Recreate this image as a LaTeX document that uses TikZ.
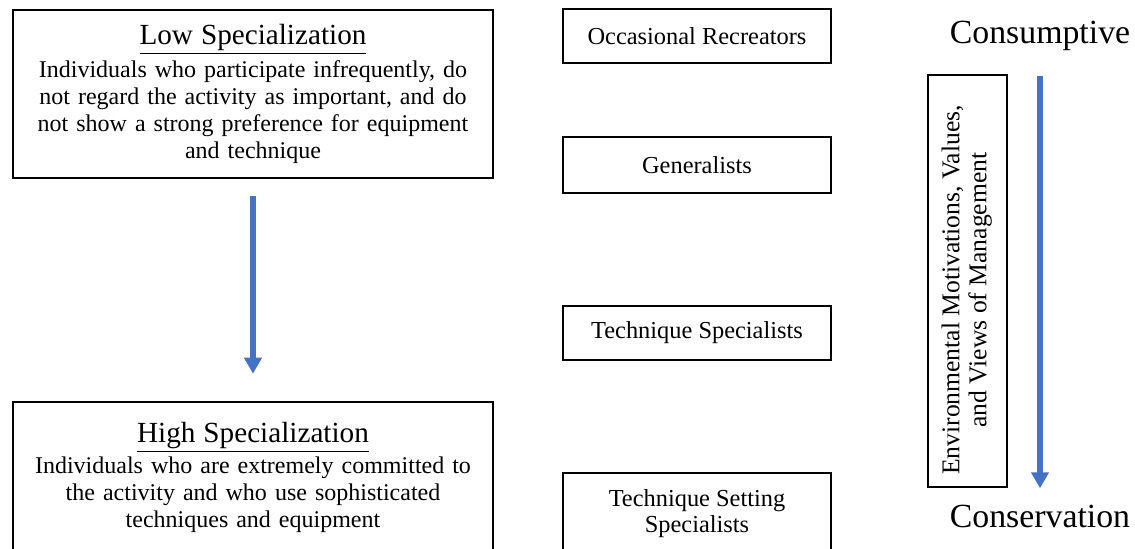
\documentclass[tikz,border=0pt]{standalone}
\usepackage{fontspec}
\setmainfont{Liberation Serif}
\usetikzlibrary{arrows.meta,positioning}

\definecolor{arrowblue}{RGB}{68,114,196}

\tikzset{
  levelbox/.style={draw,line width=1.3pt,align=center,minimum width=240pt,text width=230pt,font=\fontsize{12}{13.5}\selectfont},
  groupbox/.style={draw,line width=1.3pt,align=center,minimum width=134pt,font=\fontsize{12.2}{13}\selectfont},
  endlabel/.style={font=\fontsize{16.9}{19}\selectfont,anchor=base},
  bluearrow/.style={draw=arrowblue,line width=2.6pt,-{Triangle[width=8.5pt,length=8pt,fill=arrowblue]}}
}
\newcommand{\levelhead}[1]{{\fontsize{14.6}{16}\selectfont\underline{#1}}\\[2pt]}

\begin{document}
\begin{tikzpicture}[x=0.5pt,y=-0.5pt]
  \useasboundingbox (0,0) rectangle (1135,548);
  \clip (0,0) rectangle (1135,548);

  % left column
  \node[levelbox,minimum height=84pt] (low) at (253,94)
    {\levelhead{Low Specialization}
     Individuals who participate infrequently, do\\
     not regard the activity as important, and do\\
     not show a strong preference for equipment\\
     and technique};
  \node[levelbox,minimum height=75pt] (high) at (253,477)
    {\levelhead{High Specialization}
     Individuals who are extremely committed to\\
     the activity and who use sophisticated\\
     techniques and equipment};
  \draw[bluearrow,shorten <=8.5pt,shorten >=13.5pt] (low.south) -- (high.north);

  % middle column
  \foreach \nm/\y/\h/\txt in {occ/36/54/Occasional Recreators,
                              gen/165/56/Generalists,
                              tech/333/54/Technique Specialists,
                              tset/514/82/{Technique Setting\\Specialists}}{
    \node[groupbox,minimum height=\h*0.5pt] (\nm) at (697,\y) {\txt};
  }

  % right column
  \node[endlabel] (cons) at (1040,43) {Consumptive};
  \node[endlabel] (conserv) at (1040,527) {Conservation};
  \node[draw,line width=1.3pt,minimum width=39.5pt,minimum height=206pt,inner sep=0pt] (envbox) at (967.5,281)
    {\rotatebox{90}{\fontsize{12.8}{13.5}\selectfont
      \begin{tabular}{@{}c@{}}Environmental Motivations, Values,\\ and Views of Management\end{tabular}\hspace{9pt}}};
  \draw[bluearrow,shorten <=1pt] (cons.south |- envbox.north) -- (conserv.north |- envbox.south);
\end{tikzpicture}
\end{document}
